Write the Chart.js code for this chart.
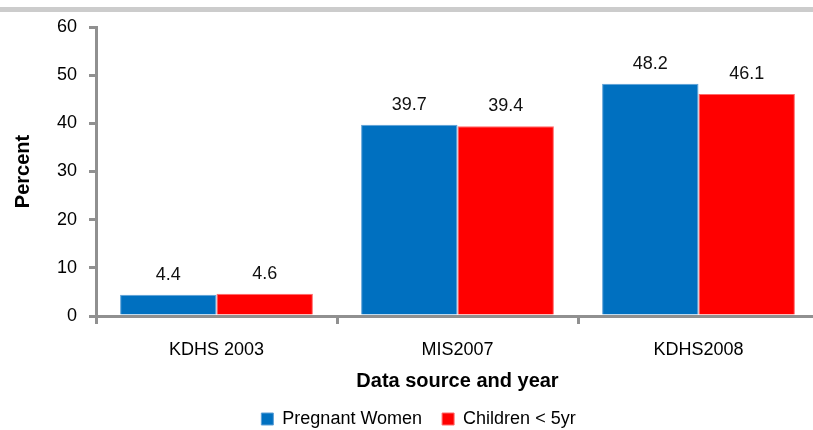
<!DOCTYPE html>
<html>
<head>
<meta charset="utf-8">
<script src="https://cdn.jsdelivr.net/npm/chart.js@4.4.1/dist/chart.umd.min.js"></script>
<style>
  html, body { margin: 0; padding: 0; overflow: hidden; background: #fff; }
  #topband { position: absolute; left: 0; top: 7px; width: 100%; height: 5px; background: #cccccc; }
  #wrap { position: absolute; left: 0; top: 0; width: 819px; height: 438px; }
</style>
</head>
<body>
<div id="topband"></div>
<div id="wrap"><canvas id="chart"></canvas></div>
<script>
// Survey sources along the x axis
const categories = ['KDHS 2003', 'MIS2007', 'KDHS2008'];
// Percent values per group
const pregnantWomen = [4.4, 39.7, 48.2];
const childrenUnder5 = [4.6, 39.4, 46.1];
// Value axis range
const yMin = 0;
const yMax = 60;
const yStep = 10;

const axisGray = '#909090';
Chart.defaults.font.family = '"Liberation Sans", Arial, sans-serif';
Chart.defaults.color = '#000';

// Writes each bar's value above it
const valueLabels = {
  id: 'valueLabels',
  afterDatasetsDraw(chart) {
    const ctx = chart.ctx;
    ctx.save();
    ctx.font = '18px "Liberation Sans", Arial, sans-serif';
    ctx.fillStyle = '#111';
    ctx.textAlign = 'center';
    ctx.textBaseline = 'alphabetic';
    chart.data.datasets.forEach((ds, i) => {
      chart.getDatasetMeta(i).data.forEach((bar, j) => {
        ctx.fillText(ds.data[j].toFixed(1), bar.x, bar.y - 15);
      });
    });
    ctx.restore();
  }
};

new Chart(document.getElementById('chart'), {
  type: 'bar',
  data: {
    labels: categories,
    datasets: [
      {
        label: 'Pregnant Women',
        data: pregnantWomen,
        backgroundColor: '#0070C0',
        borderColor: '#5c9fd6',
        borderWidth: 1,
        borderSkipped: 'bottom',
        categoryPercentage: 0.8,
        barPercentage: 1.0
      },
      {
        label: 'Children < 5yr',
        data: childrenUnder5,
        backgroundColor: '#FF0000',
        borderColor: '#ff6a6a',
        borderWidth: 1,
        borderSkipped: 'bottom',
        categoryPercentage: 0.8,
        barPercentage: 1.0
      }
    ]
  },
  options: {
    responsive: true,
    maintainAspectRatio: false,
    devicePixelRatio: 1,
    animation: false,
    layout: { padding: { left: 18, top: 27, right: 0, bottom: 0 } },
    plugins: {
      legend: {
        position: 'bottom',
        labels: {
          boxWidth: 12,
          boxHeight: 12,
          padding: 20,
          color: '#000',
          font: { size: 18 }
        }
      },
      tooltip: { enabled: false }
    },
    scales: {
      x: {
        grid: { drawOnChartArea: false, offset: true, tickLength: 8, color: axisGray, lineWidth: 3 },
        border: { color: axisGray, width: 3 },
        ticks: { padding: 15, color: '#000', font: { size: 18 } },
        title: {
          display: true,
          text: 'Data source and year',
          color: '#000',
          font: { size: 20, weight: 'bold', lineHeight: 0.9 },
          padding: { top: 0, bottom: 0 }
        },
        afterFit(scale) { scale.height = 74; }
      },
      y: {
        min: yMin,
        max: yMax,
        ticks: { stepSize: yStep, padding: 12, color: '#000', font: { size: 18 } },
        grid: { drawOnChartArea: false, tickLength: 7, color: axisGray, lineWidth: 3 },
        border: { color: axisGray, width: 3 },
        title: {
          display: true,
          text: 'Percent',
          color: '#000',
          font: { size: 20, weight: 'bold', lineHeight: 1 },
          padding: { top: -5, bottom: 0 }
        },
        afterFit(scale) { scale.width = 78; }
      }
    }
  },
  plugins: [valueLabels]
});
</script>
</body>
</html>
